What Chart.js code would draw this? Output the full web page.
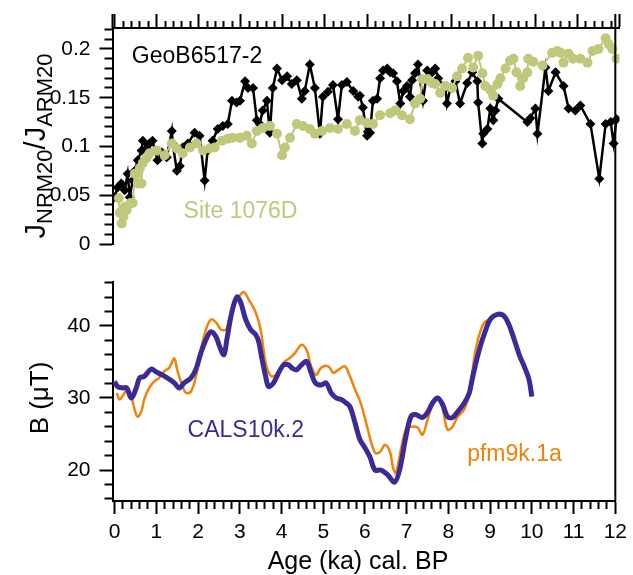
<!DOCTYPE html>
<html lang="en">
<head>
<meta charset="UTF-8" />
<title>Paleointensity records</title>
<script src="https://cdn.jsdelivr.net/npm/chart.js"></script>
<style>
  body { margin: 0; background: #fff; }
  .wrap { position: relative; width: 633px; height: 575px; }
  .wrap canvas { position: absolute; left: 0; top: 0; }
</style>
</head>
<body>
<div class="wrap">
  <canvas id="topChart" width="633" height="575"></canvas>
  <canvas id="bottomChart" width="633" height="575"></canvas>
</div>
<script>
// GeoB6517-2 (black diamonds)
const geoAge = [0.0, 0.07, 0.16, 0.24, 0.31, 0.36, 0.43, 0.48, 0.55, 0.64, 0.67, 0.76, 0.83, 0.9, 1.02, 1.12, 1.24, 1.36, 1.38, 1.48,
  1.55, 1.62, 1.74, 1.9, 2.02, 2.14, 2.21, 2.33, 2.45, 2.57, 2.69, 2.79, 2.9, 2.98, 3.1, 3.17, 3.29, 3.38, 3.45, 3.52,
  3.62, 3.69, 3.76, 3.86, 3.98, 4.1, 4.21, 4.33, 4.45, 4.52, 4.64, 4.76, 4.88, 4.95, 5.07, 5.19, 5.31, 5.4, 5.52, 5.67,
  5.79, 5.83, 5.9, 6.0, 6.02, 6.07, 6.14, 6.24, 6.31, 6.38, 6.48, 6.55, 6.62, 6.71, 6.79, 6.86, 6.95, 7.02, 7.07, 7.14,
  7.21, 7.33, 7.43, 7.55, 7.62, 7.69, 7.86, 7.9, 7.98, 8.1, 8.21, 8.38, 8.5, 8.62, 8.64, 8.74, 8.76, 8.86, 8.93, 9.0,
  9.05, 9.12, 9.81, 9.88, 10.0, 10.05, 10.24, 10.31, 10.48, 10.67, 10.79, 10.95, 11.07, 11.31, 11.52, 11.67, 11.79, 11.86, 11.93];
const geoRatio = [0.048, 0.058, 0.062, 0.055, 0.072, 0.048, 0.065, 0.075, 0.086, 0.096, 0.106, 0.098, 0.103, 0.106, 0.086, 0.094, 0.089, 0.116, 0.103, 0.075,
  0.080, 0.099, 0.103, 0.114, 0.111, 0.065, 0.096, 0.106, 0.118, 0.121, 0.123, 0.147, 0.145, 0.147, 0.167, 0.160, 0.160, 0.127, 0.123, 0.137,
  0.147, 0.114, 0.160, 0.180, 0.168, 0.172, 0.164, 0.168, 0.149, 0.157, 0.184, 0.160, 0.113, 0.151, 0.156, 0.163, 0.128, 0.163, 0.166, 0.157,
  0.151, 0.152, 0.140, 0.111, 0.115, 0.114, 0.147, 0.149, 0.170, 0.178, 0.180, 0.176, 0.175, 0.167, 0.144, 0.157, 0.162, 0.151, 0.168, 0.175,
  0.184, 0.147, 0.178, 0.176, 0.180, 0.170, 0.160, 0.144, 0.160, 0.167, 0.144, 0.165, 0.176, 0.167, 0.145, 0.103, 0.113, 0.118, 0.139, 0.127,
  0.137, 0.149, 0.125, 0.129, 0.139, 0.113, 0.181, 0.157, 0.176, 0.162, 0.139, 0.137, 0.142, 0.123, 0.067, 0.123, 0.125, 0.103, 0.128];

// Site 1076D (olive circles)
const siteAge = [0.1, 0.12, 0.17, 0.21, 0.24, 0.29, 0.38, 0.43, 0.48, 0.55, 0.6, 0.64, 0.67, 0.76, 0.83, 1.0, 1.19, 1.36, 1.48, 1.62,
  1.79, 1.95, 2.1, 2.26, 2.38, 2.55, 2.69, 2.81, 2.98, 3.14, 3.26, 3.38, 3.52, 3.69, 3.86, 3.98, 4.05, 4.17, 4.33, 4.48,
  4.64, 4.76, 4.93, 5.12, 5.31, 5.52, 5.71, 5.83, 6.0, 6.14, 6.31, 6.55, 6.67, 6.83, 7.02, 7.14, 7.26, 7.31, 7.43, 7.55,
  7.62, 7.74, 7.86, 8.02, 8.14, 8.26, 8.4, 8.52, 8.64, 8.74, 8.81, 8.93, 9.0, 9.1, 9.17, 9.29, 9.4, 9.48, 9.55, 9.64,
  9.71, 9.81, 9.83, 9.95, 10.17, 10.4, 10.52, 10.6, 10.67, 10.79, 10.9, 11.07, 11.24, 11.36, 11.5, 11.67, 11.74, 11.83, 11.93];
const siteRatio = [0.047, 0.032, 0.021, 0.028, 0.038, 0.035, 0.042, 0.042, 0.072, 0.062, 0.078, 0.062, 0.083, 0.088, 0.093, 0.096, 0.091, 0.103, 0.098, 0.093,
  0.099, 0.103, 0.096, 0.098, 0.099, 0.106, 0.108, 0.109, 0.109, 0.111, 0.103, 0.116, 0.119, 0.121, 0.113, 0.091, 0.099, 0.109, 0.123, 0.121,
  0.118, 0.113, 0.116, 0.119, 0.118, 0.123, 0.116, 0.127, 0.124, 0.123, 0.132, 0.134, 0.137, 0.132, 0.128, 0.144, 0.149, 0.169, 0.169, 0.165,
  0.164, 0.155, 0.162, 0.160, 0.172, 0.180, 0.191, 0.181, 0.193, 0.175, 0.162, 0.158, 0.152, 0.164, 0.170, 0.180, 0.188, 0.190, 0.176, 0.162,
  0.170, 0.176, 0.190, 0.187, 0.183, 0.196, 0.198, 0.196, 0.186, 0.195, 0.190, 0.190, 0.186, 0.198, 0.200, 0.211, 0.205, 0.200, 0.190];

// CALS10k.2 (purple)
const calsAge = [0.0, 0.07, 0.19, 0.29, 0.4, 0.52, 0.6, 0.71, 0.88, 1.0, 1.14, 1.31, 1.43, 1.55, 1.67, 1.83, 1.95, 2.07, 2.19, 2.31,
  2.43, 2.52, 2.62, 2.69, 2.81, 2.93, 3.02, 3.14, 3.26, 3.38, 3.45, 3.52, 3.62, 3.69, 3.81, 3.93, 4.05, 4.17, 4.24, 4.36,
  4.48, 4.6, 4.71, 4.81, 4.95, 5.07, 5.19, 5.31, 5.43, 5.55, 5.64, 5.76, 5.88, 6.0, 6.12, 6.24, 6.38, 6.55, 6.71, 6.83,
  6.98, 7.1, 7.21, 7.38, 7.5, 7.62, 7.74, 7.86, 7.98, 8.1, 8.21, 8.38, 8.5, 8.57, 8.64, 8.76, 8.88, 9.0, 9.17, 9.33,
  9.45, 9.52, 9.64, 9.71, 9.83, 9.93, 10.0];
const calsB = [32.3, 31.6, 31.4, 31.4, 30.0, 31.4, 32.8, 33.0, 34.0, 33.6, 33.2, 32.6, 32.1, 31.4, 32.1, 32.8, 34.0, 36.3, 38.1, 39.2,
  38.5, 37.1, 36.0, 38.1, 41.9, 44.0, 43.3, 40.9, 39.5, 38.8, 37.9, 35.8, 33.0, 31.6, 32.1, 33.5, 34.6, 34.6, 34.2, 33.9,
  34.6, 35.1, 33.5, 32.1, 31.8, 32.1, 30.7, 30.0, 29.8, 29.3, 28.8, 26.6, 24.2, 23.1, 21.8, 20.0, 20.0, 19.3, 18.3, 20.0,
  24.6, 27.4, 27.7, 27.3, 28.0, 29.3, 30.0, 29.1, 27.4, 27.3, 28.0, 29.3, 30.7, 32.6, 34.4, 37.1, 39.2, 40.9, 41.6, 41.4,
  40.2, 39.1, 37.0, 35.8, 34.2, 32.6, 30.2];

// pfm9k.1a (orange)
const pfmAge = [0.05, 0.12, 0.21, 0.31, 0.4, 0.48, 0.55, 0.64, 0.71, 0.83, 0.95, 1.07, 1.19, 1.31, 1.43, 1.5, 1.6, 1.71, 1.83, 1.95,
  2.07, 2.19, 2.31, 2.43, 2.55, 2.67, 2.74, 2.86, 2.98, 3.1, 3.21, 3.38, 3.5, 3.57, 3.64, 3.76, 3.93, 4.05, 4.21, 4.33,
  4.48, 4.6, 4.71, 4.83, 4.95, 5.12, 5.24, 5.36, 5.52, 5.64, 5.76, 5.9, 6.07, 6.24, 6.36, 6.48, 6.6, 6.67, 6.74, 6.86,
  6.98, 7.1, 7.26, 7.38, 7.5, 7.67, 7.79, 7.9, 7.98, 8.1, 8.21, 8.38, 8.5, 8.57, 8.64, 8.74, 8.86, 8.98];
const pfmB = [30.7, 29.8, 30.4, 31.2, 30.2, 28.4, 27.4, 28.1, 29.8, 31.4, 32.3, 32.8, 33.7, 34.2, 35.5, 33.9, 32.1, 30.7, 30.9, 33.0,
  36.7, 39.5, 40.9, 40.5, 39.5, 39.5, 40.9, 43.0, 44.1, 44.7, 43.7, 41.9, 39.5, 36.7, 34.4, 33.0, 33.5, 34.9, 35.6, 36.3,
  37.4, 36.7, 34.4, 33.2, 34.2, 34.4, 33.5, 33.9, 34.4, 33.0, 31.2, 29.3, 25.6, 22.4, 22.5, 23.5, 22.5, 20.4, 19.6, 22.8,
  25.6, 26.0, 25.9, 24.9, 27.0, 29.8, 30.0, 27.4, 25.6, 26.0, 27.3, 28.4, 30.7, 33.5, 36.3, 38.8, 40.5, 40.9];

// axis ticks
const ageLabels = [0, 1, 2, 3, 4, 5, 6, 7, 8, 9, 10, 11, 12];
const ageMinorStep = 0.2;
const ratioLabels = [0, 0.05, 0.1, 0.15, 0.2];
const ratioMinorStep = 0.01;
const fieldLabels = [20, 30, 40];
const fieldMinorStep = 2;

const FONT = "'Liberation Sans', Arial, sans-serif";
const OLIVE = '#c1c87c';
const PURPLE = '#3b2b97';
const ORANGE = '#f0830a';

Chart.defaults.font.family = FONT;
Chart.defaults.color = '#000';

function pts(xs, ys) { return xs.map((x, i) => ({ x: x, y: ys[i] })); }
function stepTicks(min, max, step) {
  const out = [];
  const n = Math.round((max - min) / step);
  for (let i = 0; i <= n; i++) out.push(+(min + i * step).toFixed(4));
  return out;
}
function isLabel(list, v) { return list.some(l => Math.abs(l - v) < 1e-6); }

const ageTicks = stepTicks(0, 12, ageMinorStep);
const ratioTicks = stepTicks(0, 0.22, ratioMinorStep);
const fieldTicks = stepTicks(16, 46, fieldMinorStep);

// minor ticks are the inner part of a major-length tick
function dashFor(list, len, minor, outward) {
  return c => {
    if (!c.tick || isLabel(list, c.tick.value)) return [];
    return outward ? [minor, 100] : [0, len - minor, minor, 100];
  };
}

const AGE_MIN = -0.05, AGE_MAX = 12;

function ageAxis(position) {
  const top = position === 'top';
  const len = top ? 14 : 13;
  return {
    type: 'linear', position: position, min: AGE_MIN, max: AGE_MAX,
    afterBuildTicks: s => { s.ticks = ageTicks.map(v => ({ value: v })); },
    afterFit: s => { s.height = top ? 28 : 74; },
    ticks: {
      display: !top, autoSkip: false, maxRotation: 0, padding: 6,
      font: { size: 21 },
      callback: v => isLabel(ageLabels, v) ? String(Math.round(v)) : ''
    },
    grid: {
      drawOnChartArea: false, tickLength: len, tickWidth: 2, tickColor: '#000',
      tickBorderDash: dashFor(ageLabels, len, 7, !top)
    },
    border: { display: true, color: '#000', width: 2 }
  };
}

function leftAxis(min, max, ticks, labels, fmt) {
  return {
    type: 'linear', position: 'left', min: min, max: max,
    afterBuildTicks: s => { s.ticks = ticks.map(v => ({ value: v })); },
    afterFit: s => { s.width = 112.5; },
    ticks: {
      autoSkip: false, padding: 9, font: { size: 21 },
      callback: v => isLabel(labels, v) ? fmt(v) : ''
    },
    grid: {
      drawOnChartArea: false, tickLength: 13, tickWidth: 2, tickColor: '#000',
      tickBorderDash: dashFor(labels, 13, 8, false)
    },
    border: { display: true, color: '#000', width: 2 }
  };
}

function drawText(ctx, text, x, y, font, color, align) {
  ctx.save();
  ctx.font = font;
  ctx.fillStyle = color;
  ctx.textAlign = align || 'left';
  ctx.textBaseline = 'alphabetic';
  ctx.fillText(text, x, y);
  ctx.restore();
}

const topTexts = {
  id: 'topTexts',
  afterDraw(chart) {
    const { ctx, scales: { x, y }, chartArea } = chart;
    // left axis runs up past the top axis
    ctx.save();
    ctx.strokeStyle = '#000'; ctx.lineWidth = 2;
    ctx.beginPath();
    ctx.moveTo(chartArea.left, chartArea.top - 14);
    ctx.lineTo(chartArea.left, chartArea.top);
    ctx.stroke();
    ctx.restore();

    drawText(ctx, 'GeoB6517-2', x.getPixelForValue(0.41), y.getPixelForValue(0.1853), '23px ' + FONT, '#000');
    drawText(ctx, 'Site 1076D', x.getPixelForValue(1.64), y.getPixelForValue(0.0264), '23px ' + FONT, OLIVE);

    // J_NRM20 / J_ARM20
    const big = '29px ' + FONT, small = '22px ' + FONT;
    const parts = [['J', big, 0], ['NRM20', small, 7], ['/', big, 0], ['J', big, 0], ['ARM20', small, 7]];
    let total = 0;
    parts.forEach(p => { ctx.font = p[1]; p.w = ctx.measureText(p[0]).width; total += p.w; });
    ctx.save();
    ctx.translate(37, 146);
    ctx.rotate(-Math.PI / 2);
    ctx.fillStyle = '#000';
    ctx.textBaseline = 'alphabetic';
    let px = -total / 2;
    parts.forEach(p => { ctx.font = p[1]; ctx.fillText(p[0], px, 8 + p[2]); px += p.w; });
    ctx.restore();
  }
};

const bottomTexts = {
  id: 'bottomTexts',
  afterDraw(chart) {
    const { ctx, scales: { x, y }, chartArea } = chart;
    // right frame line through both panels
    ctx.save();
    ctx.strokeStyle = '#000'; ctx.lineWidth = 2;
    ctx.beginPath();
    ctx.moveTo(chartArea.right, 14);
    ctx.lineTo(chartArea.right, chartArea.bottom);
    ctx.stroke();
    ctx.restore();

    drawText(ctx, 'CALS10k.2', x.getPixelForValue(1.75), y.getPixelForValue(24.6), '23px ' + FONT, PURPLE);
    drawText(ctx, 'pfm9k.1a', x.getPixelForValue(8.45), y.getPixelForValue(21.3), '23px ' + FONT, ORANGE);

    drawText(ctx, 'Age (ka) cal. BP', 358, 569, '25px ' + FONT, '#000', 'center');

    ctx.save();
    ctx.translate(48, y.getPixelForValue(30));
    ctx.rotate(-Math.PI / 2);
    drawText(ctx, 'B (\u03bcT)', 0, 0, '26px ' + FONT, '#000', 'center');
    ctx.restore();
  }
};

new Chart(document.getElementById('topChart'), {
  type: 'line',
  data: {
    datasets: [
      { label: 'Site 1076D', data: pts(siteAge, siteRatio), borderColor: OLIVE, backgroundColor: OLIVE,
        borderWidth: 2, pointStyle: 'circle', pointRadius: 5, pointBorderWidth: 0, order: 0 },
      { label: 'GeoB6517-2', data: pts(geoAge, geoRatio), borderColor: '#000', backgroundColor: '#000',
        borderWidth: 2.5, pointStyle: 'rectRot', pointRadius: 5, pointBorderWidth: 0, order: 1 }
    ]
  },
  options: {
    responsive: false, animation: false, events: [],
    layout: { padding: { left: 0, top: 0, right: 13.5, bottom: 331 } },
    plugins: { legend: { display: false }, tooltip: { enabled: false } },
    scales: {
      x: ageAxis('top'),
      y: leftAxis(0, 0.2215, ratioTicks, ratioLabels, v => String(+v.toFixed(2)))
    }
  },
  plugins: [topTexts]
});

new Chart(document.getElementById('bottomChart'), {
  type: 'line',
  data: {
    datasets: [
      { label: 'pfm9k.1a', data: pts(pfmAge, pfmB), borderColor: ORANGE, borderWidth: 2.5,
        pointRadius: 0, tension: 0.35, order: 1 },
      { label: 'CALS10k.2', data: pts(calsAge, calsB), borderColor: PURPLE, borderWidth: 5,
        pointRadius: 0, tension: 0.35, order: 0 }
    ]
  },
  options: {
    responsive: false, animation: false, events: [],
    layout: { padding: { left: 0, top: 282, right: 13.5, bottom: 0 } },
    plugins: { legend: { display: false }, tooltip: { enabled: false } },
    scales: {
      x: ageAxis('bottom'),
      y: leftAxis(15.7, 46.1, fieldTicks, fieldLabels, v => String(Math.round(v)))
    }
  },
  plugins: [bottomTexts]
});
</script>
</body>
</html>
